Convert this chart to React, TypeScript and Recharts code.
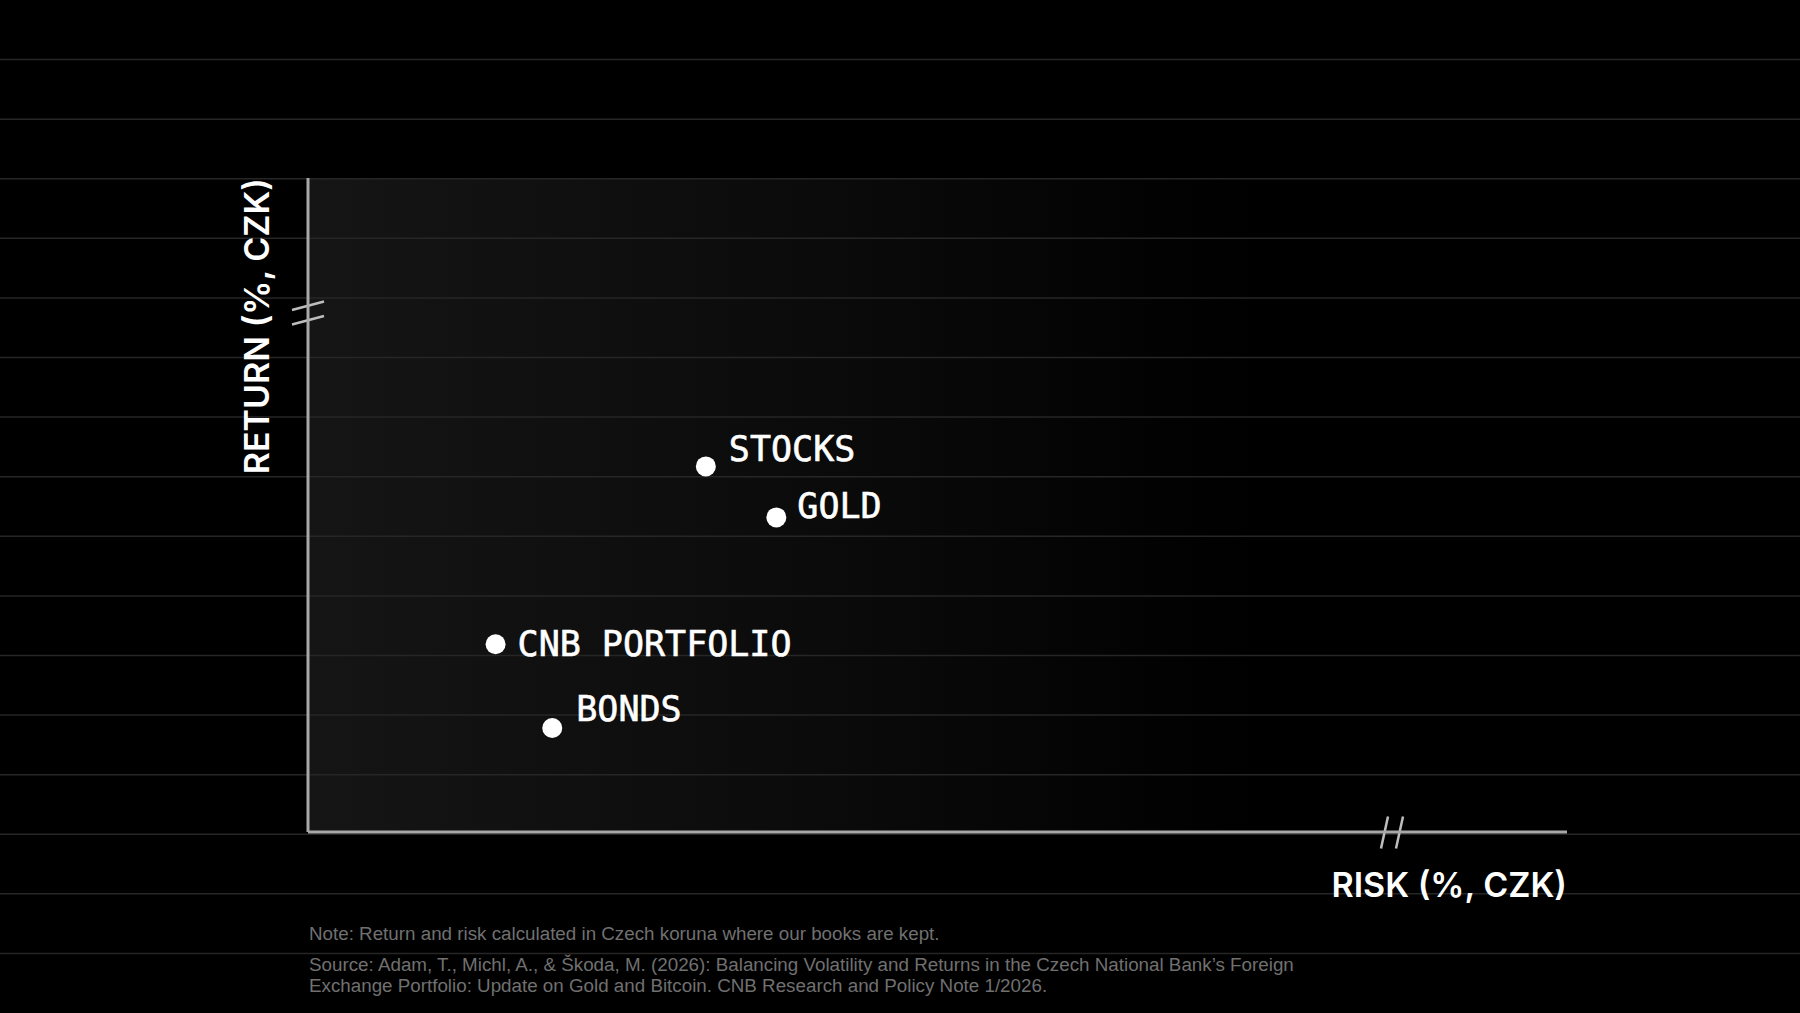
import React from "react";
import {
  ScatterChart,
  Scatter,
  XAxis,
  YAxis,
  CartesianGrid,
  LabelList,
  Customized,
} from "recharts";

// asset classes, risk (x) and return (y) on an unlabelled 0-100 scale
const assets = ["STOCKS", "GOLD", "CNB PORTFOLIO", "BONDS"];
const risk = [31.6, 37.2, 14.9, 19.4];
const ret = [55.9, 48.1, 28.7, 15.9];

const data = assets.map((name, i) => ({ name, risk: risk[i], ret: ret[i] }));

// label nudges: dx from dot centre, dy of text baseline from dot centre
const labelNudge: Record<string, { dx: number; dy: number }> = {
  STOCKS: { dx: 23, dy: -5 },
  GOLD: { dx: 21, dy: 1 },
  "CNB PORTFOLIO": { dx: 22, dy: 12 },
  BONDS: { dx: 24, dy: -7 },
};

const W = 1800;
const H = 1013;
// axes take 1px each, so the plot spans x 308..1567, y 178..832
const margin = { top: 178, left: 307, right: 233, bottom: 180 };
const plotRight = W - margin.right;

const AXIS = "#a8a8a8";
const GRID = "#262626";
const TITLE_FONT = "Inter, 'Liberation Sans', sans-serif";

const renderLabel = (props: any) => {
  const { x, y, width, height, value } = props;
  const cx = x + width / 2;
  const cy = y + height / 2;
  const n = labelNudge[value] || { dx: 22, dy: 0 };
  return (
    <text
      x={cx + n.dx}
      y={cy + n.dy}
      fill="#ffffff"
      stroke="#ffffff"
      strokeWidth={0.6}
      fontSize={35}
      fontFamily="'DejaVu Sans Mono', monospace"
    >
      {value}
    </text>
  );
};

const Decor = () => {
  const rows = Array.from({ length: 16 }, (_, k) => ((k + 1) * H) / 17);
  return (
    <g>
      {rows.map((y) => (
        <line key={y} x1={0} x2={W} y1={y} y2={y} stroke={GRID} strokeWidth={1.5} />
      ))}
      {/* axis breaks */}
      <g stroke="#bdbdbd" strokeWidth={2.5}>
        <line x1={292} y1={310} x2={324} y2={301.5} />
        <line x1={292} y1={324.5} x2={324} y2={316} />
        <line x1={1388} y1={816.5} x2={1381} y2={848.5} />
        <line x1={1403} y1={816.5} x2={1396} y2={848.5} />
      </g>
      <text
        transform={`translate(268.5, ${margin.top}) rotate(-90)`}
        textAnchor="end"
        fill="#ffffff"
        fontSize={34}
        fontWeight={600}
        fontFamily={TITLE_FONT}
      >
        RETURN (%, CZK)
      </text>
      <text
        x={plotRight}
        y={897}
        textAnchor="end"
        fill="#ffffff"
        fontSize={34}
        fontWeight={600}
        fontFamily={TITLE_FONT}
      >
        RISK (%, CZK)
      </text>
    </g>
  );
};

const footStyle: React.CSSProperties = {
  position: "absolute",
  left: 309,
  fontFamily: "'Liberation Sans', Arial, sans-serif",
  fontSize: 18.8,
  lineHeight: "21px",
  color: "#707070",
  whiteSpace: "nowrap",
};

export default function App() {
  return (
    <div
      style={{
        position: "absolute",
        top: 0,
        left: 0,
        width: W,
        height: H,
        background: "#000",
        overflow: "hidden",
      }}
    >
      <ScatterChart width={W} height={H} margin={margin}>
        <defs>
          <linearGradient id="plotGlow" x1="0" y1="0" x2="1" y2="0">
            <stop offset="0%" stopColor="#151515" />
            <stop offset="40%" stopColor="#0b0b0b" />
            <stop offset="75%" stopColor="#000000" />
          </linearGradient>
        </defs>
        <CartesianGrid horizontal={false} vertical={false} fill="url(#plotGlow)" />
        <Customized component={Decor} />
        <XAxis
          type="number"
          dataKey="risk"
          domain={[0, 100]}
          height={1}
          tick={false}
          tickLine={false}
          axisLine={{ stroke: AXIS, strokeWidth: 3 }}
        />
        <YAxis
          type="number"
          dataKey="ret"
          domain={[0, 100]}
          width={1}
          tick={false}
          tickLine={false}
          axisLine={{ stroke: AXIS, strokeWidth: 3 }}
        />
        <Scatter
          data={data}
          isAnimationActive={false}
          shape={(p: any) => <circle cx={p.cx} cy={p.cy} r={10} fill="#ffffff" />}
        >
          <LabelList dataKey="name" content={renderLabel} />
        </Scatter>
      </ScatterChart>
      <div style={{ ...footStyle, top: 923 }}>
        Note: Return and risk calculated in Czech koruna where our books are kept.
      </div>
      <div style={{ ...footStyle, top: 954 }}>
        Source: Adam, T., Michl, A., &amp; Škoda, M. (2026): Balancing Volatility and Returns in the
        Czech National Bank’s Foreign
        <br />
        Exchange Portfolio: Update on Gold and Bitcoin. CNB Research and Policy Note 1/2026.
      </div>
    </div>
  );
}
